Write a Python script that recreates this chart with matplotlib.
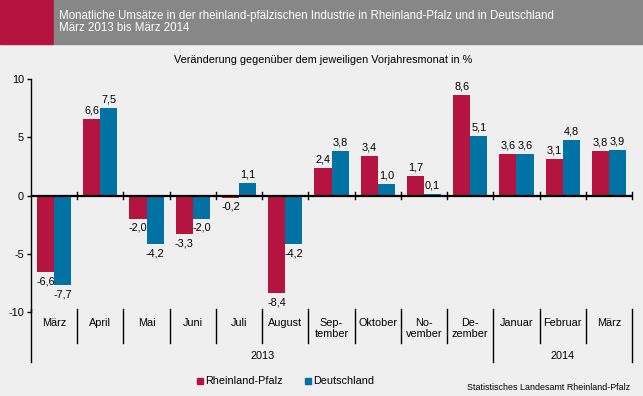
import matplotlib
matplotlib.use("Agg")
import matplotlib.pyplot as plt
from matplotlib.patches import Rectangle
import numpy as np

plt.rcParams['font.family'] = ['Liberation Sans', 'DejaVu Sans']

# data
months = ["März", "April", "Mai", "Juni", "Juli", "August", "Sep-\ntember", "Oktober",
          "No-\nvember", "De-\nzember", "Januar", "Februar", "März"]
years = ["2013", "2014"]
rlp = [-6.6, 6.6, -2.0, -3.3, -0.2, -8.4, 2.4, 3.4, 1.7, 8.6, 3.6, 3.1, 3.8]
de = [-7.7, 7.5, -4.2, -2.0, 1.1, -4.2, 3.8, 1.0, 0.1, 5.1, 3.6, 4.8, 3.9]

bg = '#EEEFEE'
red = '#B51441'
blue = '#0072A3'
fs = 7.8

W, H = 643, 396
fig = plt.figure(figsize=(W / 100, H / 100), dpi=100, facecolor=bg)

# header
fig.patches.append(Rectangle((0, 1 - 44 / H), 53 / W, 44 / H, transform=fig.transFigure,
                             color='#B5123F', zorder=0))
fig.patches.append(Rectangle((54 / W, 1 - 44 / H), 1, 44 / H, transform=fig.transFigure,
                             color='#878787', zorder=0))
fig.text(59 / W, 1 - 16 / H, "Monatliche Umsätze in der rheinland-pfälzischen Industrie in "
         "Rheinland-Pfalz und in Deutschland", color='white', fontsize=8.3, va='center')
fig.text(59 / W, 1 - 28 / H, "März 2013 bis März 2014", color='white', fontsize=8.3, va='center')
fig.text(174 / W, 1 - 60 / H, "Veränderung gegenüber dem jeweiligen Vorjahresmonat in %",
         fontsize=fs, va='center', ha='left')

ax = fig.add_axes([31 / W, (H - 312) / H, 601 / W, 233 / H])
ax.set_facecolor(bg)
n = len(months)
x = np.arange(n)
w = 0.37
ax.bar(x - w / 2, rlp, w, color=red, zorder=2)
ax.bar(x + w / 2, de, w, color=blue, zorder=2)

ax.set_xlim(-0.5, n - 0.5)
ax.set_ylim(-10, 10)
ax.set_yticks([-10, -5, 0, 5, 10])
ax.set_yticklabels(["-10", "-5", "0", "5", "10"], fontsize=fs)
ax.tick_params(axis='y', length=3, width=1, pad=2)
ax.set_xticks([])
for s in ['top', 'right', 'bottom']:
    ax.spines[s].set_visible(False)
ax.spines['left'].set_linewidth(1)

# zero line with ticks
ax.axhline(0, color='black', lw=1.6, zorder=3)
for b in np.arange(0.5, n, 1.0):
    ax.plot([b, b], [-0.28, 0.28], color='black', lw=1, zorder=3, clip_on=False)

# value labels
for xs, vals in [(x - w / 2, rlp), (x + w / 2, de)]:
    for xi, v in zip(xs, vals):
        lab = f"{v:.1f}".replace('.', ',')
        if v >= 0:
            ax.annotate(lab, (xi, v), xytext=(0, 2.5), textcoords='offset points',
                        ha='center', va='bottom', fontsize=fs, zorder=4)
        else:
            ax.annotate(lab, (xi, v), xytext=(0, -3), textcoords='offset points',
                        ha='center', va='top', fontsize=fs, zorder=4)

# category area below the plot
tr = ax.get_xaxis_transform()
top = 3 / 233
for b in np.arange(0.5, n - 1, 1.0):
    if b == 9.5:
        continue
    ax.plot([b, b], [top, -31 / 233], color='black', lw=1, transform=tr, clip_on=False)
for b in [-0.5, 9.5, n - 0.5]:
    ax.plot([b, b], [top, -50 / 233], color='black', lw=1, transform=tr, clip_on=False)
for i, m in enumerate(months):
    ax.text(i, -6 / 233, m, transform=tr, ha='center', va='top', fontsize=fs,
            linespacing=1.1)
ax.text(4.5, -44 / 233, years[0], transform=tr, ha='center', va='center', fontsize=fs)
ax.text(11, -44 / 233, years[1], transform=tr, ha='center', va='center', fontsize=fs)

# legend
fig.patches.append(Rectangle((197 / W, (H - 384) / H), 6 / W, 6 / H, transform=fig.transFigure,
                             color=red))
fig.text(205 / W, (H - 381) / H, "Rheinland-Pfalz", fontsize=fs, va='center')
fig.patches.append(Rectangle((305 / W, (H - 384) / H), 6 / W, 6 / H, transform=fig.transFigure,
                             color=blue))
fig.text(313 / W, (H - 381) / H, "Deutschland", fontsize=fs, va='center')
fig.text(630 / W, (H - 387) / H, "Statistisches Landesamt Rheinland-Pfalz", fontsize=6.4,
         va='center', ha='right')

fig.savefig("out.png", dpi=100, facecolor=bg)
